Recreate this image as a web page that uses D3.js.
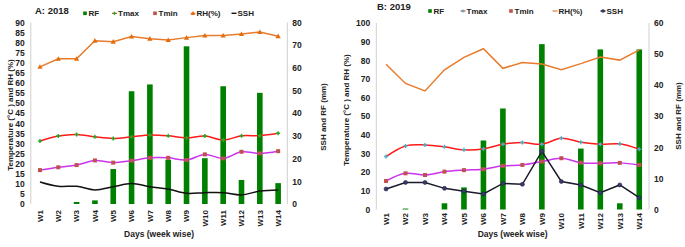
<!DOCTYPE html>
<html><head><meta charset="utf-8">
<script src="https://cdn.jsdelivr.net/npm/d3@7"></script>
<style>
body{margin:0;background:#fff}
text{font-family:"Liberation Sans",Arial,sans-serif;font-weight:bold;fill:#222}
</style>
</head><body>
<svg id="c" width="685" height="247"></svg>
<script>
const weeks = ["W1","W2","W3","W4","W5","W6","W7","W8","W9","W10","W11","W12","W13","W14"];

// Chart A: 2018
const rfA   = [0, 0, 0.9, 1.6, 15.4, 49.7, 52.7, 19.5, 69.5, 20.2, 51.9, 10.6, 49.0, 9.2];
const tmaxA = [31.2, 33.7, 34.5, 33.3, 32.5, 33.3, 34.2, 33.8, 32.8, 33.7, 31.7, 33.8, 33.9, 35.1];
const tminA = [16.8, 18.2, 19.3, 21.6, 20.5, 21.5, 22.9, 22.9, 21.8, 24.6, 22.6, 25.9, 25.1, 26.2];
const rhA   = [68.0, 72.0, 72.0, 81.0, 80.5, 83.0, 82.0, 81.3, 82.5, 83.5, 83.5, 84.3, 85.3, 83.2];
const sshA  = [9.7, 7.8, 7.8, 6.2, 7.6, 9.0, 7.6, 6.6, 4.7, 5.0, 5.0, 4.0, 5.7, 6.2];
const leftTicksA  = d3.range(0, 91, 5);
const rightTicksA = d3.range(0, 81, 10);

// Chart B: 2019
const rfB   = [0, 0.3, 0, 2.0, 7.1, 22.2, 32.5, 0, 53.2, 0, 19.6, 51.5, 2.0, 51.5];
const tmaxB = [28.4, 34.1, 34.6, 33.6, 32.0, 32.5, 35.0, 35.9, 35.0, 38.2, 36.1, 35.0, 35.2, 32.3];
const tminB = [15.3, 19.4, 18.5, 20.3, 21.1, 21.6, 23.4, 23.9, 25.7, 27.5, 25.1, 24.8, 25.0, 23.9];
const rhB   = [77.9, 67.6, 63.6, 74.9, 81.6, 86.2, 75.7, 78.8, 78.0, 75.0, 78.2, 81.7, 80.1, 85.6];
const sshB  = [6.6, 8.7, 8.7, 6.8, 5.9, 5.0, 8.4, 8.1, 18.7, 9.0, 7.9, 5.4, 7.9, 3.8];
const leftTicksB  = d3.range(0, 101, 10);
const rightTicksB = d3.range(0, 61, 10);

const seriesNames = ["RF","Tmax","Tmin","RH(%)","SSH"];
const xTitle = "Days (week wise)";
const yLeftTitle = "Temperature (°C ) and RH (%)";
const yRightTitle = "SSH and RF (mm)";

const svg = d3.select("#c");

function plusPath(s){return `M${-s},0H${s}M0,${-s}V${s}`;}

function drawChart(cfg){
  const g = svg.append("g");
  const x = d3.scaleBand().domain(weeks).range([cfg.x0, cfg.x1]);
  const yL = d3.scaleLinear().domain([0, d3.max(cfg.leftTicks)]).range([cfg.yBottom, cfg.yTop]);
  const yR = d3.scaleLinear().domain([0, d3.max(cfg.rightTicks)]).range([cfg.yBottom, cfg.yTop]);
  const cx = w => x(w) + x.bandwidth()/2;

  // axis lines
  g.append("line").attr("x1",cfg.x0).attr("x2",cfg.x0).attr("y1",cfg.yTop).attr("y2",cfg.yBottom).attr("stroke","#d0d0d0");
  g.append("line").attr("x1",cfg.x1).attr("x2",cfg.x1).attr("y1",cfg.yTop).attr("y2",cfg.yBottom).attr("stroke","#d0d0d0");

  const la = g.append("g").attr("transform",`translate(${cfg.x0},0)`)
    .call(d3.axisLeft(yL).tickValues(cfg.leftTicks).tickSize(0).tickPadding(6));
  la.select(".domain").remove();
  la.selectAll("text").style("font-size","8.5px").style("font-family","Liberation Sans, Arial").style("font-weight","bold").attr("fill","#222");
  const ra = g.append("g").attr("transform",`translate(${cfg.x1},0)`)
    .call(d3.axisRight(yR).tickValues(cfg.rightTicks).tickSize(0).tickPadding(5));
  ra.select(".domain").remove();
  ra.selectAll("text").style("font-size","8.5px").style("font-family","Liberation Sans, Arial").style("font-weight","bold").attr("fill","#222");

  // x tick labels
  g.selectAll(".xl").data(weeks).enter().append("text")
    .attr("transform", d => `translate(${cx(d)},${cfg.xLabelY}) rotate(-90)`)
    .attr("text-anchor","end").attr("dy","0.35em")
    .style("font-size","8px").text(d => d);

  // bars
  g.selectAll(".bar").data(cfg.rf).enter().append("rect")
    .attr("x",(d,i)=>cx(weeks[i]) - 2.8).attr("width",5.6)
    .attr("y",d=>yR(d)).attr("height",d=>yR(0)-yR(d))
    .attr("fill","#008000");

  const smooth = d3.line().x((d,i)=>cx(weeks[i])).curve(d3.curveCatmullRom.alpha(0.5));
  const lin = d3.line().x((d,i)=>cx(weeks[i]));

  // RH
  g.append("path").attr("d", lin.y(d=>yL(d))(cfg.rh)).attr("fill","none").attr("stroke","#e87b2c").attr("stroke-width",1.5);
  // Tmax
  g.append("path").attr("d", smooth.y(d=>yL(d))(cfg.tmax)).attr("fill","none").attr("stroke","#ff1a1a").attr("stroke-width",1.5);
  // Tmin
  g.append("path").attr("d", smooth.y(d=>yL(d))(cfg.tmin)).attr("fill","none").attr("stroke","#cc33ee").attr("stroke-width",1.5);
  // SSH
  g.append("path").attr("d", (cfg.sshSmooth?smooth:lin).y(d=>yR(d))(cfg.ssh)).attr("fill","none").attr("stroke",cfg.sshColor).attr("stroke-width",1.5);

  // markers
  g.selectAll(".tmx").data(cfg.tmax).enter().append("path")
    .attr("transform",(d,i)=>`translate(${cx(weeks[i])},${yL(d)})`)
    .attr("d",plusPath(2)).attr("stroke",cfg.tmaxMarker).attr("stroke-width",1.4);
  g.selectAll(".tmn").data(cfg.tmin).enter().append("rect")
    .attr("x",(d,i)=>cx(weeks[i])-2).attr("y",d=>yL(d)-2).attr("width",4).attr("height",4)
    .attr("fill","#c0504d");
  if(cfg.rhMarkers){
    g.selectAll(".rhm").data(cfg.rh).enter().append("path")
      .attr("transform",(d,i)=>`translate(${cx(weeks[i])},${yL(d)})`)
      .attr("d","M0,-2.6L2.6,2L-2.6,2Z").attr("fill","#e46c0a");
  }
  if(cfg.sshMarkers){
    g.selectAll(".ssm").data(cfg.ssh).enter().append("circle")
      .attr("cx",(d,i)=>cx(weeks[i])).attr("cy",d=>yR(d)).attr("r",2)
      .attr("fill","#3a3a6a").attr("stroke","#22224a").attr("stroke-width",0.6);
  }

  // titles
  g.append("text").attr("x",cfg.titleX).attr("y",cfg.titleY).style("font-size","9.5px").attr("fill","#222").text(cfg.title);
  g.append("text").attr("x",(cfg.x0+cfg.x1)/2).attr("y",cfg.xTitleY).attr("text-anchor","middle").style("font-size","8.5px").text(xTitle);
  g.append("text").attr("transform",`translate(${cfg.yLTitleX},${cfg.yLTitleY}) rotate(-90)`).attr("text-anchor","middle").attr("dy","0.35em").style("font-size","8px").text(yLeftTitle);
  g.append("text").attr("transform",`translate(${cfg.yRTitleX},${cfg.yRTitleY}) rotate(-90)`).attr("text-anchor","middle").attr("dy","0.35em").style("font-size","8px").text(yRightTitle);

  // legend
  const L = cfg.legend;
  seriesNames.forEach((name,i)=>{
    const mx = L.mx[i], my = L.y;
    if(i===0) g.append("rect").attr("x",mx-1.8).attr("y",my-1.8).attr("width",3.6).attr("height",3.6).attr("fill","#008000");
    if(i===1){
      g.append("line").attr("x1",mx-2.5).attr("x2",mx+2.5).attr("y1",my).attr("y2",my).attr("stroke","#ff1a1a").attr("stroke-width",1);
      g.append("path").attr("transform",`translate(${mx},${my})`).attr("d",plusPath(1.6)).attr("stroke",cfg.tmaxMarker).attr("stroke-width",1.2);
    }
    if(i===2) g.append("rect").attr("x",mx-1.8).attr("y",my-1.8).attr("width",3.6).attr("height",3.6).attr("fill","#c0504d");
    if(i===3){
      g.append("line").attr("x1",mx-2.5).attr("x2",mx+2.5).attr("y1",my).attr("y2",my).attr("stroke","#e87b2c").attr("stroke-width",1.2);
      if(cfg.rhMarkers) g.append("path").attr("transform",`translate(${mx},${my})`).attr("d","M0,-2.2L2.2,1.7L-2.2,1.7Z").attr("fill","#e46c0a");
    }
    if(i===4){
      g.append("line").attr("x1",mx-2.5).attr("x2",mx+2.5).attr("y1",my).attr("y2",my).attr("stroke",cfg.sshColor).attr("stroke-width",1.4);
      if(cfg.sshMarkers) g.append("circle").attr("cx",mx).attr("cy",my).attr("r",1.8).attr("fill","#3a3a6a");
    }
    g.append("text").attr("x",mx+3.5).attr("y",my).attr("dy","0.35em").style("font-size","8px").text(name);
  });
}

drawChart({
  x0:30.8, x1:287.3, yTop:22.5, yBottom:204,
  leftTicks:leftTicksA, rightTicks:rightTicksA,
  rf:rfA, tmax:tmaxA, tmin:tminA, rh:rhA, ssh:sshA,
  sshColor:"#111", sshSmooth:true, sshMarkers:false, rhMarkers:true, tmaxMarker:"#22aa22",
  xLabelY:210, title:"A: 2018", titleX:35, titleY:13.5, xTitleY:237,
  yLTitleX:10, yLTitleY:115, yRTitleX:323, yRTitleY:117,
  legend:{y:13.3, mx:[85,114.5,155,193,234]}
});
drawChart({
  x0:376.3, x1:649, yTop:23, yBottom:209.5,
  leftTicks:leftTicksB, rightTicks:rightTicksB,
  rf:rfB, tmax:tmaxB, tmin:tminB, rh:rhB, ssh:sshB,
  sshColor:"#1a1a2a", sshSmooth:false, sshMarkers:true, rhMarkers:false, tmaxMarker:"#4bacc6",
  xLabelY:213, title:"B: 2019", titleX:377, titleY:10, xTitleY:237,
  yLTitleX:346, yLTitleY:110, yRTitleX:678, yRTitleY:116,
  legend:{y:11, mx:[430,463,511,555,603]}
});
</script>
</body></html>
